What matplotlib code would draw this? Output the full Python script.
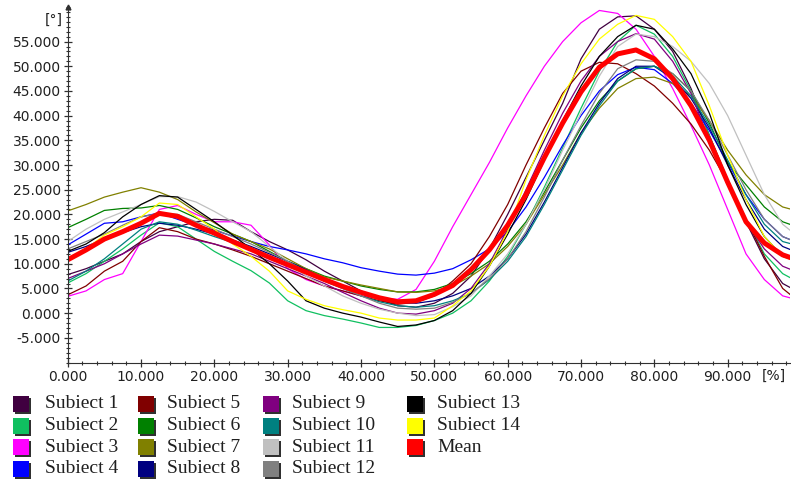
import numpy as np
import matplotlib.pyplot as plt
from matplotlib.patches import Rectangle
from matplotlib.ticker import FormatStrFormatter, MultipleLocator

# gait cycle [%], sampled every 2.5 %
pct = [i * 2.5 for i in range(41)]

# joint angle [deg] for each subject
subj_1 = [7.8, 9.0, 10.5, 12.0, 14.5, 16.5, 17.5, 18.5, 19.0, 18.8, 16.5, 14.5, 12.8, 10.8, 8.5, 6.5, 4.5, 2.8, 1.5, 1.2,
          2.0, 4.0, 7.5, 13.0, 20.0, 27.5, 35.0, 42.5, 51.5, 57.5, 60.0, 60.2, 57.5, 53.0, 45.5, 36.0, 27.0, 18.5, 11.0, 6.0, 4.0]
subj_2 = [6.1, 8.0, 10.5, 13.0, 15.8, 18.3, 17.5, 15.0, 12.5, 10.5, 8.6, 6.1, 2.5, 0.5, -0.5, -1.2, -2.0, -2.9, -2.9, -2.5,
          -1.5, 0.0, 2.5, 6.5, 11.5, 18.0, 25.5, 33.5, 41.5, 49.0, 55.0, 58.3, 56.5, 52.0, 45.0, 36.0, 27.0, 19.0, 12.0, 8.0, 6.0]
subj_3 = [3.4, 4.5, 6.8, 8.0, 14.5, 21.0, 21.8, 20.0, 18.5, 18.5, 17.8, 13.8, 9.0, 6.8, 5.5, 4.5, 3.5, 3.0, 2.8, 4.8,
          10.5, 17.5, 24.0, 30.5, 37.5, 44.0, 50.0, 55.0, 58.8, 61.3, 60.7, 57.5, 52.0, 45.5, 38.0, 30.0, 21.0, 12.0, 6.8, 3.5, 2.5]
subj_4 = [13.8, 16.0, 18.2, 18.5, 19.5, 20.3, 19.0, 17.8, 16.8, 15.6, 14.5, 13.5, 12.8, 12.0, 11.0, 10.2, 9.2, 8.5, 7.9, 7.7,
          8.1, 9.0, 10.8, 13.0, 16.5, 21.5, 27.5, 34.0, 40.0, 45.0, 48.3, 49.8, 49.3, 46.5, 42.5, 37.0, 30.5, 24.0, 19.0, 15.5, 14.0]
subj_5 = [3.7, 5.5, 8.5, 10.5, 14.5, 17.3, 16.5, 15.0, 14.0, 12.8, 11.5, 10.0, 8.5, 7.0, 5.5, 4.5, 3.5, 2.5, 1.8, 2.2,
          3.5, 6.5, 10.0, 15.5, 22.0, 30.0, 37.5, 44.5, 49.0, 50.8, 50.5, 48.5, 46.0, 42.5, 38.3, 33.0, 26.5, 19.0, 11.5, 5.0, 2.0]
subj_6 = [17.3, 19.0, 20.8, 21.2, 21.3, 21.8, 21.0, 19.3, 17.5, 16.0, 14.5, 12.5, 10.5, 9.0, 7.5, 6.5, 5.5, 4.8, 4.3, 4.3,
          4.8, 6.0, 8.0, 10.5, 14.0, 18.5, 24.5, 31.0, 37.5, 43.0, 47.0, 49.5, 50.0, 48.5, 45.0, 38.5, 30.5, 26.0, 21.5, 18.5, 17.2]
subj_7 = [20.7, 22.0, 23.5, 24.5, 25.4, 24.5, 23.0, 20.5, 18.3, 16.0, 14.5, 13.0, 11.0, 9.0, 7.3, 6.5, 5.7, 5.0, 4.3, 4.2,
          4.5, 5.5, 7.5, 10.0, 13.5, 18.0, 24.0, 30.0, 36.5, 41.5, 45.5, 47.5, 47.8, 46.5, 44.0, 39.0, 33.0, 28.0, 24.0, 21.5, 20.5]
subj_8 = [12.3, 13.5, 15.0, 16.3, 17.5, 18.2, 17.8, 17.0, 16.0, 14.8, 13.5, 12.0, 10.5, 8.8, 7.0, 5.5, 4.0, 3.0, 2.2, 2.0,
          2.5, 3.5, 5.0, 7.5, 11.0, 16.0, 22.5, 29.5, 36.5, 42.5, 47.5, 50.0, 50.0, 47.5, 43.5, 37.5, 30.0, 23.0, 17.0, 13.5, 12.0]
subj_9 = [7.0, 8.5, 10.0, 12.0, 14.0, 15.8, 15.6, 14.8, 14.0, 13.0, 12.0, 10.5, 9.0, 7.5, 6.0, 4.2, 2.5, 1.0, 0.0, -0.2,
          0.5, 2.0, 5.0, 10.0, 17.0, 25.0, 33.0, 40.5, 47.0, 52.0, 55.0, 56.6, 55.5, 51.0, 44.5, 35.0, 26.0, 18.5, 13.0, 9.5, 8.0]
subj_10 = [6.5, 8.5, 11.0, 14.0, 17.0, 18.5, 18.0, 16.8, 15.5, 14.3, 13.0, 11.5, 10.0, 8.3, 6.5, 5.0, 3.5, 2.3, 1.5, 1.2,
           1.5, 2.5, 4.0, 6.8, 10.5, 15.5, 22.0, 29.0, 36.0, 42.0, 47.0, 49.5, 50.0, 48.0, 44.0, 38.0, 31.0, 24.0, 18.0, 14.5, 13.5]
subj_11 = [14.5, 17.0, 19.0, 20.5, 22.0, 23.6, 23.6, 22.5, 20.6, 18.5, 16.5, 13.5, 10.5, 7.5, 5.5, 3.5, 2.0, 0.8, 0.0, -0.5,
           -0.3, 1.3, 3.5, 7.5, 12.0, 18.0, 25.0, 33.0, 40.5, 48.0, 54.0, 56.5, 56.0, 54.0, 51.0, 46.5, 40.0, 32.0, 24.0, 18.0, 15.0]
subj_12 = [13.0, 14.5, 16.0, 17.8, 19.5, 20.2, 20.0, 18.5, 17.0, 15.5, 14.0, 12.3, 10.5, 8.5, 6.5, 5.0, 3.5, 2.0, 1.0, 0.8,
           1.0, 2.2, 4.0, 7.0, 11.0, 16.5, 23.5, 31.0, 38.0, 44.5, 49.5, 51.3, 51.0, 48.5, 45.0, 39.0, 32.0, 25.0, 19.0, 15.5, 14.0]
subj_13 = [12.5, 14.0, 16.3, 19.5, 22.0, 23.8, 23.5, 21.0, 18.5, 15.8, 13.0, 10.0, 6.5, 2.5, 1.0, 0.0, -0.8, -1.8, -2.7, -2.4,
           -1.5, 0.5, 4.0, 9.5, 16.0, 23.0, 31.0, 39.0, 46.0, 52.0, 56.0, 58.3, 57.5, 53.5, 48.5, 40.5, 30.0, 22.0, 15.5, 11.5, 10.3]
subj_14 = [10.8, 13.0, 15.8, 17.5, 19.5, 22.3, 22.0, 19.5, 17.0, 14.0, 11.5, 8.5, 4.5, 2.8, 1.5, 0.7, 0.0, -1.0, -1.4, -1.4,
           -1.0, 1.5, 4.5, 9.5, 16.5, 27.0, 36.0, 44.0, 50.5, 55.5, 58.5, 60.3, 59.5, 56.0, 51.0, 42.0, 32.0, 23.0, 15.5, 11.5, 10.0]
mean_curve = [10.8, 12.8, 15.0, 16.5, 18.2, 20.2, 19.6, 17.8, 16.2, 14.5, 12.9, 11.3, 9.8, 8.3, 6.8, 5.4, 4.2, 3.1, 2.3, 2.5,
              3.8, 5.6, 8.8, 12.8, 17.8, 24.0, 31.5, 38.5, 44.8, 49.8, 52.5, 53.3, 51.5, 47.5, 42.0, 35.0, 26.5, 18.5, 14.2, 11.8, 10.5]

curves = [subj_1, subj_2, subj_3, subj_4, subj_5, subj_6, subj_7,
          subj_8, subj_9, subj_10, subj_11, subj_12, subj_13, subj_14]
labels = ["Subiect %d" % (i + 1) for i in range(14)] + ["Mean"]
colors = ["#400040", "#10C060", "#FF00FF", "#0000FF", "#800000", "#008000", "#808000",
          "#000080", "#800080", "#008080", "#C0C0C0", "#808080", "#000000", "#FFFF00", "#FF0000"]

W, H = 791, 480
fig = plt.figure(figsize=(W / 100, H / 100), dpi=100)
ax = fig.add_axes([67.7 / W, 1 - 363 / H, (790 - 67.7) / W, (363 - 7) / H])

for vals, col in zip(curves, colors[:14]):
    ax.plot(pct, vals, color=col, lw=0.9)
ax.plot(pct, mean_curve, color=colors[14], lw=3.6, solid_joinstyle="round")

ax.set_xlim(0, 98.5)
ax.set_ylim(-10.1, 62)
ax.spines["top"].set_visible(False)
ax.spines["right"].set_visible(False)
ax.spines["left"].set_color("#303030")
ax.spines["bottom"].set_color("#303030")

ax.set_xticks(np.arange(0, 91, 10))
ax.set_yticks(np.arange(-5, 56, 5))
ax.xaxis.set_minor_locator(MultipleLocator(2))
ax.yaxis.set_minor_locator(MultipleLocator(1))
ax.xaxis.set_major_formatter(FormatStrFormatter("%.3f"))
ax.yaxis.set_major_formatter(FormatStrFormatter("%.3f"))
ax.tick_params(which="major", direction="inout", length=6, width=0.9, colors="#303030",
               labelsize=10, labelcolor="#202020", pad=2)
ax.tick_params(which="minor", direction="inout", length=2.5, width=0.8, colors="#303030")

# little arrow on top of the y axis + unit labels
ax.plot(0, 1, marker="^", color="#303030", markersize=3.5,
        transform=ax.transAxes, clip_on=False)
fig.text(63 / W, 1 - 20 / H, "[°]", ha="right", va="center", fontsize=10, color="#202020")
fig.text(774 / W, 1 - 376 / H, "[%]", ha="center", va="center", fontsize=10, color="#202020")

# legend block under the plot, column-major like the original
sq_x = [13, 138, 263, 407]
txt_x = [45, 167, 292, 437]
row_y = [404, 425.5, 447, 468.5]
for i, (lab, col) in enumerate(zip(labels, colors)):
    c, r = i // 4, i % 4
    x0, cy = sq_x[c], row_y[r]
    fig.add_artist(Rectangle(((x0 + 2) / W, 1 - (cy + 10) / H), 16 / W, 16 / H,
                             transform=fig.transFigure, facecolor="#303030", edgecolor="none"))
    fig.add_artist(Rectangle((x0 / W, 1 - (cy + 8) / H), 16 / W, 16 / H,
                             transform=fig.transFigure, facecolor=col, edgecolor="none"))
    fig.text(txt_x[c] / W, 1 - cy / H, lab, ha="left", va="center",
             fontsize=14, family="Liberation Serif", color="#202020")

fig.savefig("out.png", dpi=100)
